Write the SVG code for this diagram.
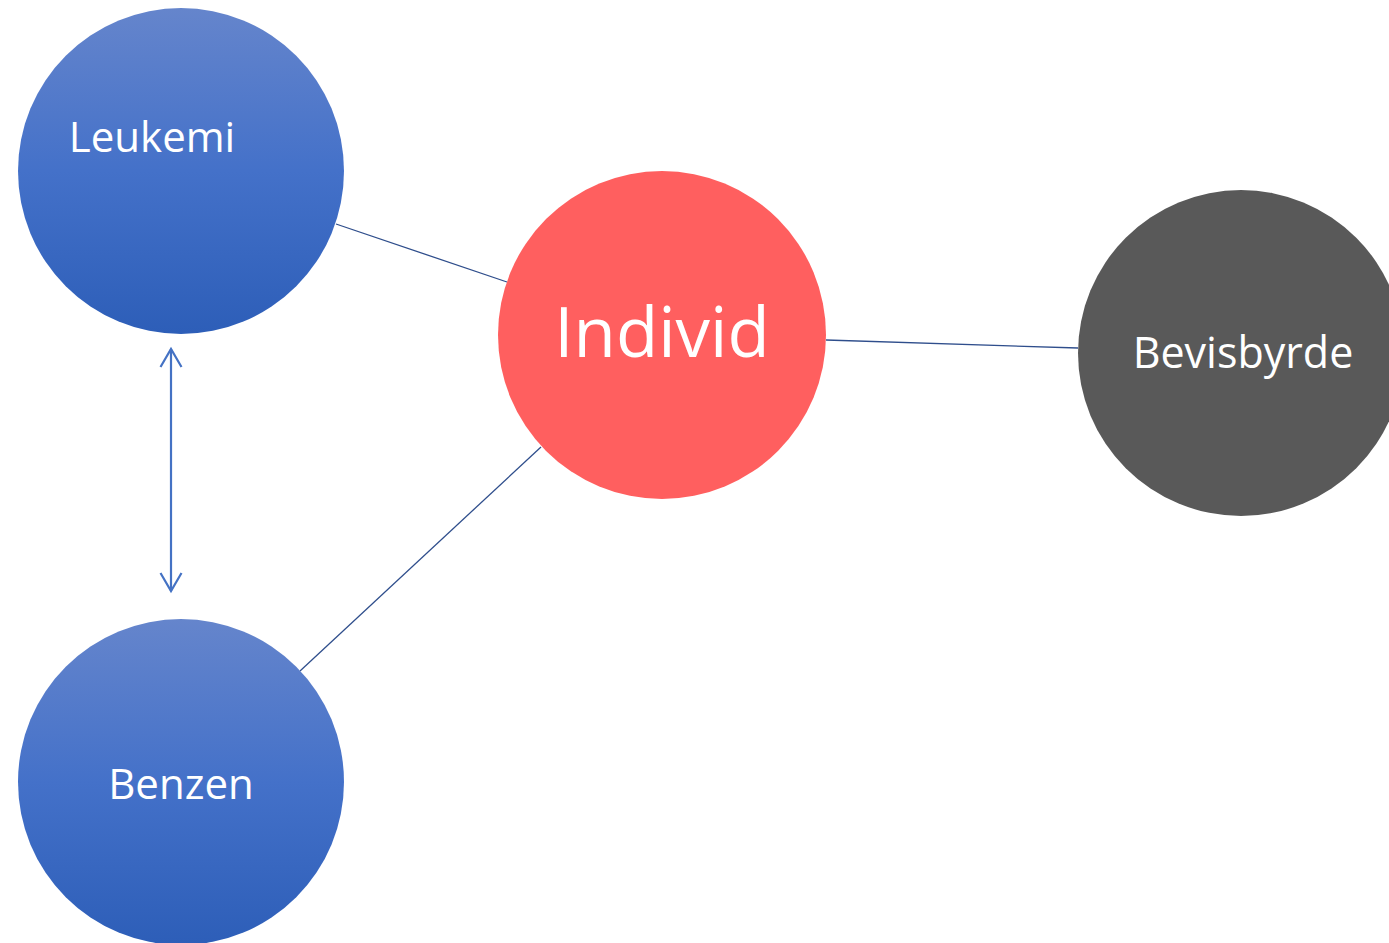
<svg xmlns="http://www.w3.org/2000/svg" width="1389" height="943" viewBox="0 0 1389 943">
<style>
.lbl{font-family:"Open Sans","Liberation Sans",sans-serif;fill:#fff;text-anchor:middle}
.conn{stroke:#2F4E8C;stroke-width:1.3;fill:none}
.arr{stroke:#4472C4;stroke-width:2.2;fill:none}
</style>
<defs>
<linearGradient id="blue" x1="0" y1="0" x2="0" y2="1">
<stop offset="0" stop-color="#6585CC"/>
<stop offset="0.5" stop-color="#4471C9"/>
<stop offset="1" stop-color="#2D5EB8"/>
</linearGradient>
<marker id="open" viewBox="0 0 22 24" refX="19" refY="12" markerWidth="22" markerHeight="24" markerUnits="userSpaceOnUse" orient="auto-start-reverse">
<path d="M1,1.5 L19,12 L1,22.5" fill="none" stroke="#4472C4" stroke-width="2.2"/>
</marker>
</defs>
<rect width="1389" height="943" fill="#fff"/>
<g id="connectors">
<line class="conn" x1="336" y1="224" x2="507" y2="282"/>
<line class="conn" x1="826" y1="340" x2="1078" y2="348"/>
<line class="conn" x1="541" y1="447" x2="300" y2="671"/>
<line class="arr" x1="171" y1="349" x2="171" y2="591" marker-start="url(#open)" marker-end="url(#open)"/>
</g>
<g id="leukemi">
<circle cx="181" cy="171" r="163" fill="url(#blue)"/>
<text class="lbl" x="152" y="152" font-size="42">Leukemi</text>
</g>
<g id="benzen">
<circle cx="181" cy="782" r="163" fill="url(#blue)"/>
<text class="lbl" x="181" y="799" font-size="42">Benzen</text>
</g>
<g id="individ">
<circle cx="662" cy="335" r="164" fill="#FF5F5F"/>
<text class="lbl" x="662" y="357" font-size="69">Individ</text>
</g>
<g id="bevisbyrde">
<circle cx="1241" cy="353" r="163" fill="#595959"/>
<text class="lbl" x="1243" y="368" font-size="43">Bevisbyrde</text>
</g>
</svg>
